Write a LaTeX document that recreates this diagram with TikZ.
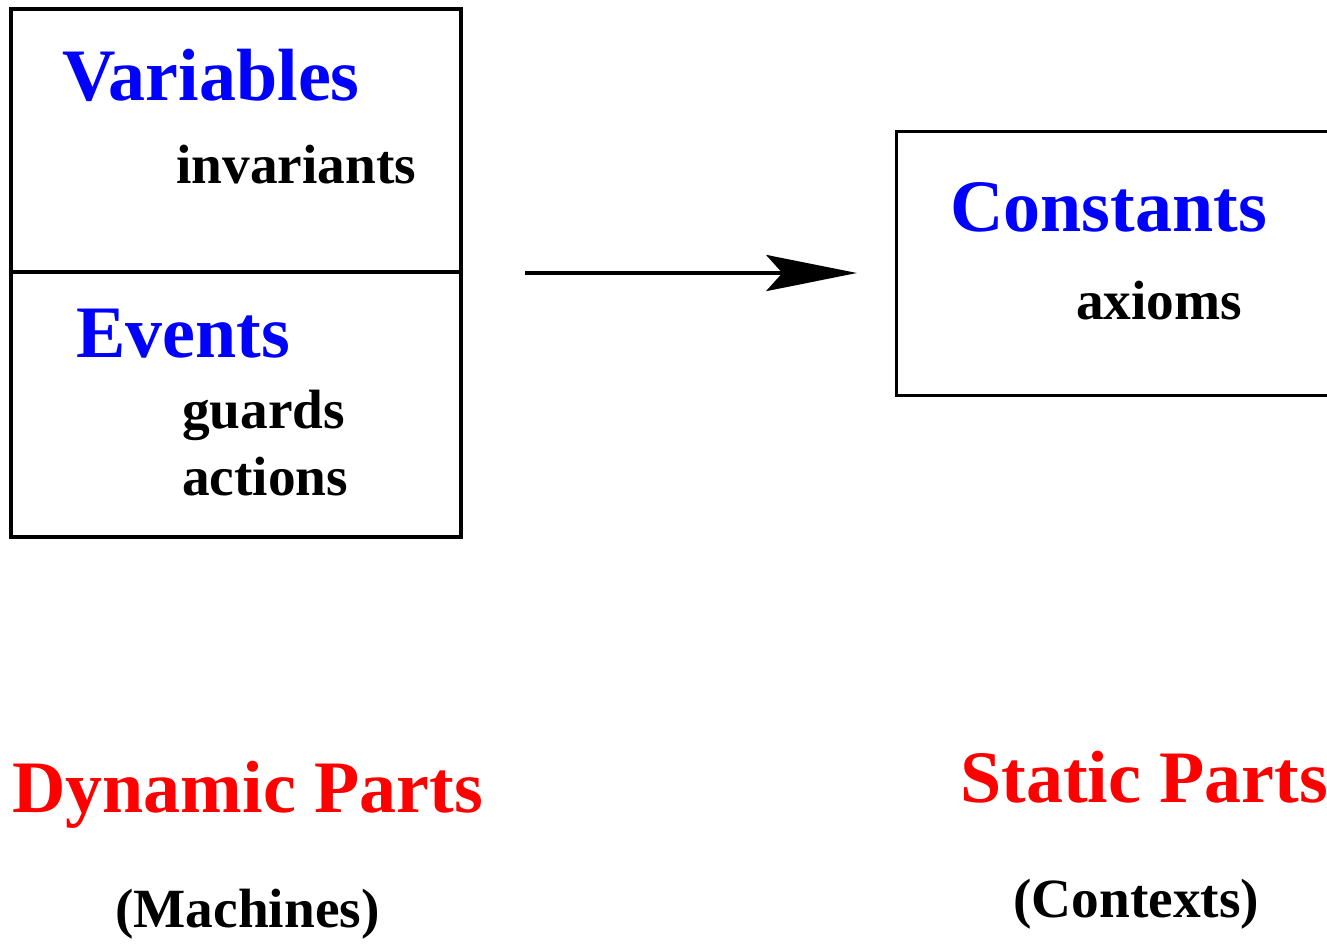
\documentclass[tikz,border=0pt]{standalone}
\usepackage{fontspec}
\setmainfont{Liberation Serif}
\usetikzlibrary{arrows.meta}
\tikzset{
  part/.style={draw=black, line width=2.3pt, inner sep=0pt},
  big/.style={anchor=base west, inner sep=0pt, font=\fontsize{55.5pt}{60pt}\selectfont\bfseries},
  small/.style={anchor=base west, inner sep=0pt, font=\fontsize{41.5pt}{46pt}\selectfont\bfseries},
  link/.style={line width=3.6pt, -{Stealth[length=68pt, width=27pt, inset=12pt]}}
}
\begin{document}
\begin{tikzpicture}[x=0.75pt, y=-0.75pt]
  \useasboundingbox (0,0) rectangle (1327,943);
  % machine box with its two compartments
  \node[part, minimum width=450*0.75pt, minimum height=528*0.75pt] (machine) at (236,273) {};
  \draw[line width=2.3pt] (machine.west |- 0,272) coordinate (divl) -- (machine.east |- 0,272) coordinate (divr);
  % context box, running off the right edge
  \node[part, anchor=north west, minimum width=460*0.75pt, minimum height=264*0.75pt] (context) at (895,130) {};
  % texts
  \node[big, text=blue] (vars) at (62,100) {Variables};
  \node[small] (inv) at (176,183) {invariants};
  \node[big, text=blue] (evts) at (76,357) {Events};
  \node[small] (grd) at (182,428) {guards};
  \node[small] (act) at (182,495) {actions};
  \node[big, text=blue] (cst) at (950,231) {Constants};
  \node[small] (axm) at (1076,319) {axioms};
  \node[big, text=red] (dyn) at (12,812) {Dynamic Parts};
  \node[small] (mch) at (115,927) {(Machines)};
  \node[big, text=red] (sta) at (960,802) {Static Parts};
  \node[small] (ctx) at (1013,917) {(Contexts)};
  % the machine sees the context
  \coordinate (from) at (525,273);
  \coordinate (to) at (857,273);
  \draw[link] (from) -- (to);
\end{tikzpicture}
\end{document}
